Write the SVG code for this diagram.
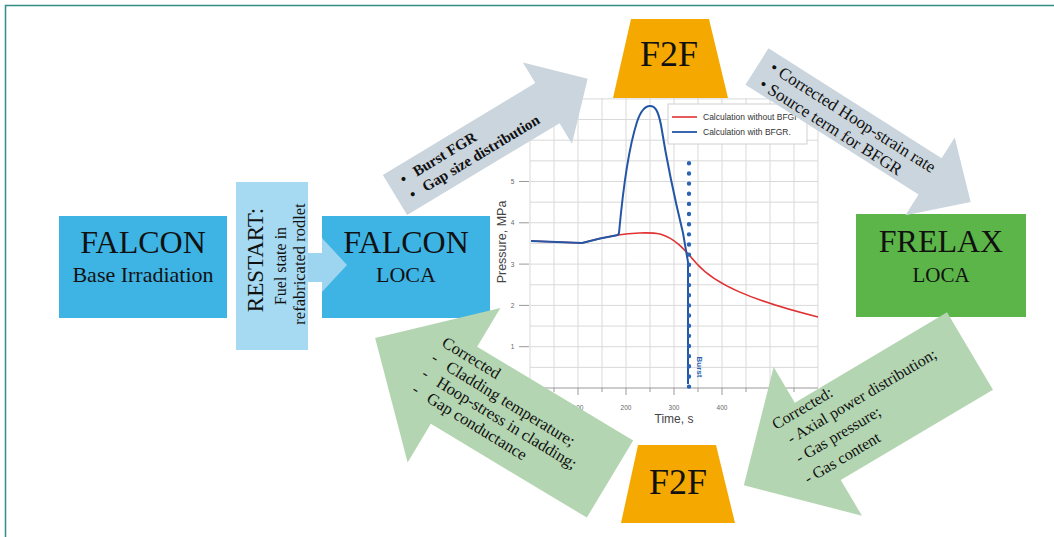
<svg xmlns="http://www.w3.org/2000/svg" width="1054" height="537" viewBox="0 0 1054 537">
<style>
.serif{font-family:"Liberation Serif","Times New Roman",serif;fill:#111}
.sans{font-family:"Liberation Sans",Arial,sans-serif}
.falcon{fill:#3eb4e5}
.grid{stroke:#d9d9d9;stroke-width:1;fill:none}
.gray{fill:#cbd5dd}
.green{fill:#b4d5b1}
.f2f{fill:#f5a900}
.tick{font-family:"Liberation Sans",Arial,sans-serif;font-size:6.5px;fill:#666;text-anchor:middle}
.leg{font-family:"Liberation Sans",Arial,sans-serif;font-size:8.5px;fill:#333}
</style>
<defs>
<clipPath id="legclip"><rect x="668" y="100" width="129" height="46"/></clipPath>
</defs>
<rect x="0" y="0" width="1054" height="537" fill="#fff"/>
<rect x="5.5" y="5.5" width="1100" height="600" fill="none" stroke="#2f8f83" stroke-width="1.5"/>

<g id="chart">
<path class="grid" d="M530,98V388M554,98V388M578,98V388M602,98V388M626,98V388M650,98V388M674,98V388M698,98V388M722,98V388M746,98V388M770,98V388M794,98V388M818,98V388"/>
<path class="grid" d="M530,98.9H818M530,119.55H818M530,140.2H818M530,160.85H818M530,181.5H818M530,202.15H818M530,222.8H818M530,243.45H818M530,264.1H818M530,284.75H818M530,305.4H818M530,326.05H818M530,346.7H818M530,367.35H818"/>
<path d="M530,388H818M519,181.5H529M519,222.8H529M519,264.1H529M519,305.4H529M519,346.7H529M578,388V395M626,388V395M674,388V395M722,388V395M770,388V395M554,388V392M602,388V392M650,388V392M698,388V392M746,388V392M794,388V392" stroke="#999" stroke-width="1" fill="none"/>
<g class="tick">
<text x="512.5" y="184">5</text>
<text x="512.5" y="225.3">4</text>
<text x="512.5" y="266.6">3</text>
<text x="512.5" y="307.9">2</text>
<text x="512.5" y="349.2">1</text>
<text x="578" y="409.5">100</text>
<text x="626" y="409.5">200</text>
<text x="674" y="409.5">300</text>
<text x="722" y="409.5">400</text>
</g>
<text class="sans" transform="translate(506,242) rotate(-90)" text-anchor="middle" font-size="12.5" fill="#444">Pressure, MPa</text>
<text class="sans" x="674" y="423" text-anchor="middle" font-size="12" fill="#444">Time, s</text>
<path d="M531,241 L582,243 L600,238.5 L618,235 C630,233 650,232 660,234 C675,238 685,250 697,264 C715,284 750,300 818,317" fill="none" stroke="#e03232" stroke-width="1.6" stroke-linejoin="round"/>
<path d="M531,241 L582,243 L600,238.5 L618,235 L619,233 C622,200 628,150 637,122 C641,110 645,106 650,106 C655,106 658,110 661,125 C665,150 675,200 683,233 L688,262 L688,384" fill="none" stroke="#2456a6" stroke-width="2" stroke-linejoin="round"/>
<line x1="689" y1="163.3" x2="689" y2="386.7" stroke="#2a62b4" stroke-width="4.4" stroke-linecap="round" stroke-dasharray="0 10.15"/>
<text class="sans" transform="translate(697,367) rotate(90)" text-anchor="middle" font-size="8" font-weight="bold" fill="#2a62b4">Burst</text>
<rect x="668" y="104" width="139" height="40" fill="#fff" stroke="#d0d0d0" stroke-width="1"/>
<line x1="672" y1="117" x2="697" y2="117" stroke="#e03232" stroke-width="1.6"/>
<line x1="672" y1="132" x2="697" y2="132" stroke="#2456a6" stroke-width="1.8"/>
<g clip-path="url(#legclip)">
<text class="leg" x="703" y="120">Calculation without BFGR</text>
<text class="leg" x="703" y="135">Calculation with BFGR.</text>
</g>
</g>

<g id="falcon-base">
<rect x="59" y="216" width="168" height="102" class="falcon"/>
<text class="serif" x="143" y="253" font-size="32" text-anchor="middle">FALCON</text>
<text class="serif" x="143" y="282" font-size="22" text-anchor="middle">Base Irradiation</text>
</g>

<g id="restart">
<rect x="236" y="182" width="72" height="168" fill="#a6daf2"/>
<text class="serif" transform="translate(263,260) rotate(-90)" font-size="23" text-anchor="middle">RESTART:</text>
<text class="serif" transform="translate(286,266) rotate(-90)" font-size="16" text-anchor="middle">Fuel state in</text>
<text class="serif" transform="translate(305,264) rotate(-90)" font-size="16.5" text-anchor="middle">refabricated rodlet</text>
</g>

<g id="falcon-loca">
<rect x="322" y="216" width="168" height="102" class="falcon"/>
<text class="serif" x="406" y="253" font-size="32" text-anchor="middle">FALCON</text>
<text class="serif" x="406" y="282" font-size="22" text-anchor="middle">LOCA</text>
</g>

<g id="frelax-loca">
<rect x="856" y="214" width="170" height="103" fill="#5cb548"/>
<text class="serif" x="941" y="252" font-size="32" text-anchor="middle">FRELAX</text>
<text class="serif" x="941" y="282" font-size="21" text-anchor="middle">LOCA</text>
</g>

<g id="connectors">
<polygon points="308,253 322,253 322,238 347,265 322,292 322,282 308,282" fill="#9dd5f1"/>

<g transform="translate(395,195) rotate(-31.1)">
<polygon class="gray" points="0,-23.5 178,-23.5 178,-47.5 225,0 178,47.5 178,23.5 0,23.5"/>
<g class="serif" font-size="15" font-weight="bold">
<text x="13" y="-4.5">•</text><text x="28" y="-4.5">Burst FGR</text>
<text x="13" y="13.5">•</text><text x="28" y="13.5">Gap size distribution</text>
</g>
</g>

<g transform="translate(757,66.5) rotate(32.4)">
<polygon class="gray" points="0,-21.5 205,-21.5 205,-46 253,0 205,46 205,21.5 0,21.5"/>
<g class="serif" font-size="17">
<text x="12" y="-3">•</text><text x="22" y="-3">Corrected Hoop-strain rate</text>
<text x="12" y="17">•</text><text x="22" y="17">Source term for BFGR</text>
</g>
</g>

<polygon class="green" transform="translate(970,351) rotate(149.3)" points="0,-45 177,-45 177,-86.5 263,0 177,86.5 177,45 0,45"/>
<g class="serif" font-size="16" transform="translate(776,430) rotate(-30.7)" xml:space="preserve">
<text x="0" y="0">Corrected:</text>
<text x="6" y="20">- Axial power  distribution;</text>
<text x="3" y="41">- Gas pressure;</text>
<text x="0" y="63">- Gas content</text>
</g>

<polygon class="green" transform="translate(610,479) rotate(211)" points="0,-45 182,-45 182,-90 274,0 182,90 182,45 0,45"/>
<g class="serif" font-size="16.5" transform="translate(440,345) rotate(31.5)">
<text x="1" y="0">Corrected</text>
<text x="0" y="18.5">-</text><text x="17" y="18.5">Cladding temperature;</text>
<text x="0" y="37">-</text><text x="17" y="37">Hoop-stress in cladding;</text>
<text x="0" y="55.5">-</text><text x="17" y="55.5">Gap conductance</text>
</g>
</g>

<g id="f2f-top">
<polygon class="f2f" points="631,19 709,19 728,98 613,98"/>
<text class="serif" x="669" y="66" font-size="36" text-anchor="middle">F2F</text>
</g>

<g id="f2f-bottom">
<polygon class="f2f" points="638,445 716,445 735,523 621,523"/>
<text class="serif" x="678" y="494" font-size="36" text-anchor="middle">F2F</text>
</g>
</svg>
